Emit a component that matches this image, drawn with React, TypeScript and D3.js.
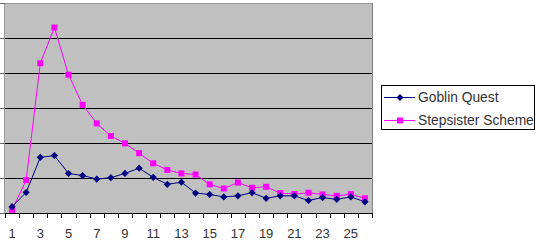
import React from "react";
import * as d3 from "d3";

const categories = Array.from({ length: 26 }, (_, i) => String(i + 1));
const goblinQuest = [1.8, 5.9, 15.9, 16.4, 11.3, 10.7, 9.7, 10.1, 11.3, 12.8, 10.2, 8.2, 8.8, 5.7, 5.3, 4.6, 4.9, 5.8, 4.2, 4.9, 4.9, 3.6, 4.4, 3.9, 4.6, 3.2];
const stepsisterScheme = [0.9, 9.4, 42.8, 53.0, 39.5, 30.9, 25.6, 22.0, 19.9, 17.1, 14.2, 12.3, 11.3, 11.0, 8.2, 7.0, 8.7, 7.2, 7.5, 5.7, 5.4, 5.8, 5.3, 4.9, 5.4, 4.2];
const yTicks = [0, 10, 20, 30, 40, 50, 60];
const xLabels = categories.filter((_, i) => i % 2 === 0);
const seriesNames = ["Goblin Quest", "Stepsister Scheme"];

export default function App() {
  const W = 540, H = 251;
  const left = 5, right = 372, top = 3, bottom = 213;
  const x = d3.scaleBand<string>().domain(categories).range([left, right]).padding(0);
  const y = d3.scaleLinear().domain([0, 60]).range([bottom, top]);
  const cx = (c: string) => (x(c) as number) + x.bandwidth() / 2;
  const line = d3.line<number>().x((_, i) => cx(categories[i])).y((d) => y(d));
  const navy = "#000080";
  const magenta = "#FF00FF";
  const font = "'Liberation Sans', Arial, sans-serif";
  const diamond = (px: number, py: number, r = 3.6) =>
    `M${px},${py - r}L${px + r},${py}L${px},${py + r}L${px - r},${py}Z`;

  return (
    <svg width={W} height={H} style={{ position: "absolute", left: 0, top: 0, background: "#fff" }}>
      <rect x={left} y={top} width={right - left} height={bottom - top} fill="#C0C0C0" />
      <g shapeRendering="crispEdges">
        {yTicks.slice(1, -1).map((t) => (
          <line key={t} x1={left} x2={right} y1={Math.round(y(t)) + 0.5} y2={Math.round(y(t)) + 0.5} stroke="#000" strokeWidth={1} />
        ))}
        <line x1={left} x2={right} y1={top + 0.5} y2={top + 0.5} stroke="#999" />
        <line x1={right + 0.5} x2={right + 0.5} y1={top} y2={bottom} stroke="#808080" />
        <line x1={left - 0.5} x2={left - 0.5} y1={top} y2={bottom} stroke="#999" />
        {yTicks.map((t) => (
          <line key={"yt" + t} x1={0} x2={left} y1={Math.round(y(t)) + 0.5} y2={Math.round(y(t)) + 0.5} stroke="#666" />
        ))}
        <line x1={left} x2={right + 1} y1={bottom + 0.5} y2={bottom + 0.5} stroke="#000" />
        {[...categories.map((c) => x(c) as number), right].map((v, i) => (
          <line key={"xt" + i} x1={Math.round(v) + 0.5} x2={Math.round(v) + 0.5} y1={bottom} y2={bottom + 5} stroke="#000" />
        ))}
      </g>
      {xLabels.map((c) => (
        <text key={"xl" + c} x={cx(c)} y={238} textAnchor="middle" fontFamily={font} fontSize={13} fill="#333">
          {c}
        </text>
      ))}
      <path d={line(stepsisterScheme) || ""} fill="none" stroke={magenta} strokeWidth={1} />
      <path d={line(goblinQuest) || ""} fill="none" stroke={navy} strokeWidth={1} />
      {stepsisterScheme.map((v, i) => (
        <rect key={"s" + i} x={cx(categories[i]) - 3} y={y(v) - 3} width={6} height={6} fill={magenta} />
      ))}
      {goblinQuest.map((v, i) => (
        <path key={"g" + i} d={diamond(cx(categories[i]), y(v))} fill={navy} />
      ))}
      <rect x={381.5} y={85.5} width={153} height={44} fill="#fff" stroke="#000" shapeRendering="crispEdges" />
      <line x1={384} x2={415} y1={97.5} y2={97.5} stroke={navy} />
      <path d={diamond(400, 97.5)} fill={navy} />
      <text x={418} y={102} fontFamily={font} fontSize={13.8} fill="#333">{seriesNames[0]}</text>
      <line x1={384} x2={415} y1={120.5} y2={120.5} stroke={magenta} />
      <rect x={397} y={117.5} width={6} height={6} fill={magenta} />
      <text x={418} y={125} fontFamily={font} fontSize={13.8} fill="#333">{seriesNames[1]}</text>
    </svg>
  );
}
